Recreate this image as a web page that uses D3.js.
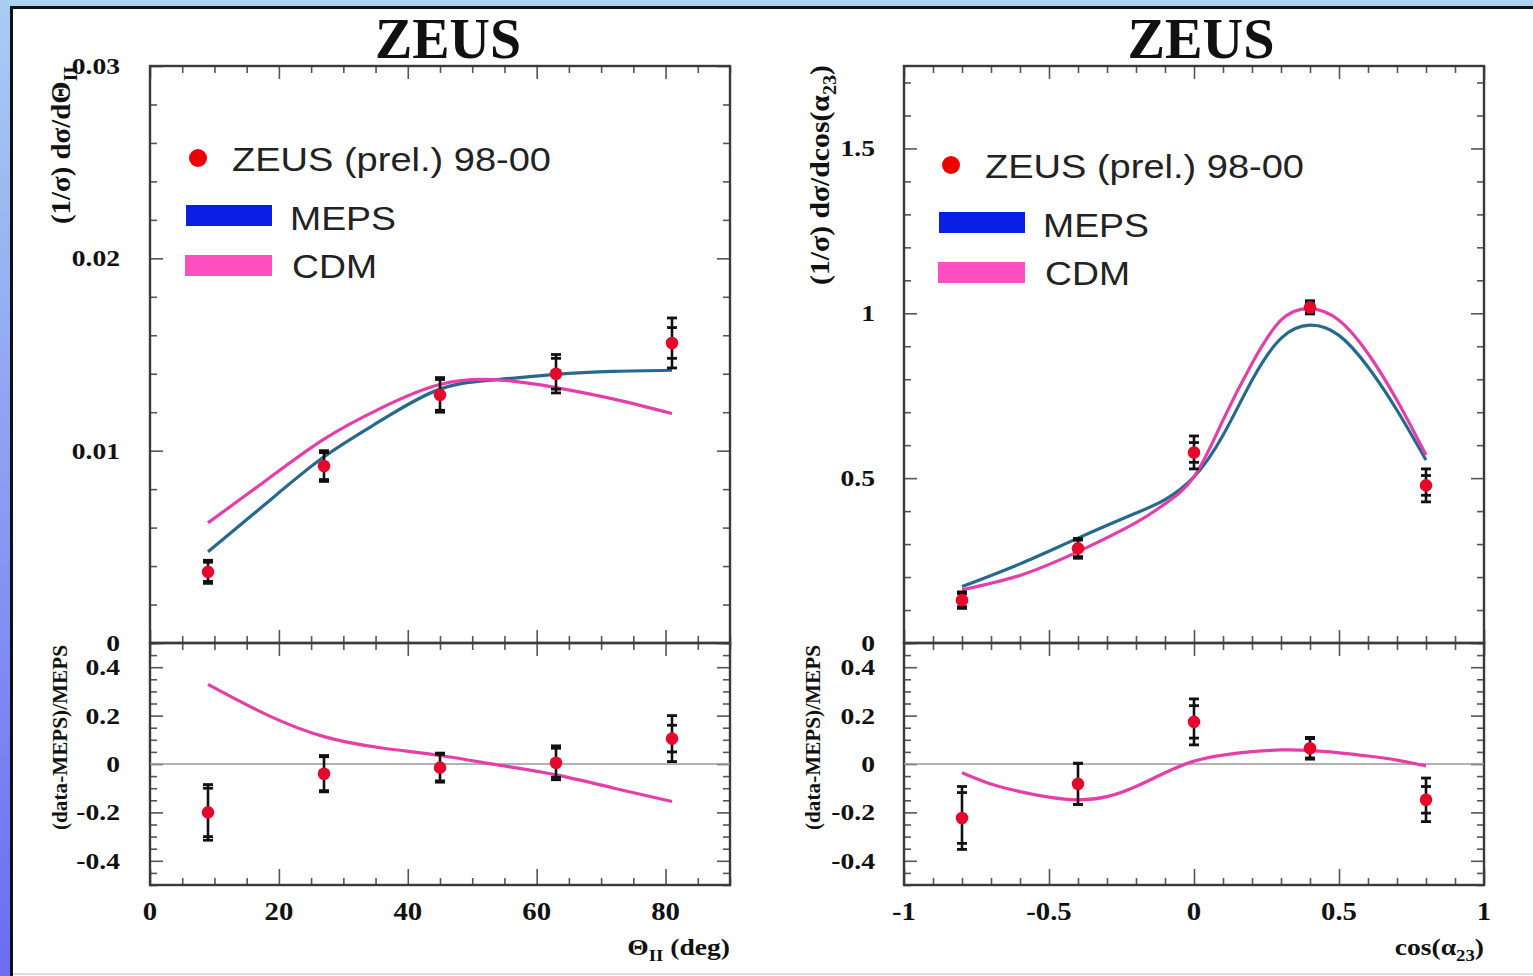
<!DOCTYPE html>
<html><head><meta charset="utf-8">
<script src="https://cdn.jsdelivr.net/npm/d3@7"></script>
<style>body{margin:0;background:#fff;} svg{display:block;}</style>
</head><body>
<script>
// ---------- DATA ----------
// Left: Theta_II (deg)
const thetaBins = [9, 27, 45, 63, 81];
const thetaData = [0.0037, 0.0092, 0.0129, 0.0140, 0.0156];
const thetaStat = [0.0005, 0.0007, 0.0008, 0.0008, 0.0008];
const thetaTot  = [0.0006, 0.0008, 0.0009, 0.0010, 0.0013];
const thetaCurveX = [9, 18, 27, 36, 45, 54, 63, 72, 81];
const thetaMEPS = [0.00474, 0.00725, 0.00968, 0.01160, 0.01320, 0.01370, 0.01397, 0.01412, 0.01418];
const thetaCDM  = [0.00625, 0.00845, 0.01060, 0.01224, 0.01344, 0.01368, 0.01328, 0.01268, 0.01193];
const thetaRatio     = [-0.20, -0.04, -0.015, 0.005, 0.105];
const thetaRatioStat = [0.10, 0.07, 0.055, 0.06, 0.055];
const thetaRatioTot  = [0.115, 0.075, 0.06, 0.07, 0.095];
const thetaRatioCDM  = [0.329, 0.205, 0.113, 0.066, 0.035, -0.004, -0.045, -0.10, -0.155];

// Right: cos(alpha_23)
const cosBins = [-0.8, -0.4, 0, 0.4, 0.8];
const cosData = [0.130, 0.287, 0.578, 1.018, 0.478];
const cosStat = [0.02, 0.025, 0.03, 0.015, 0.03];
const cosTot  = [0.025, 0.03, 0.05, 0.02, 0.05];
const cosCurveX = [-0.8, -0.6, -0.4, -0.2, -0.1, 0, 0.1, 0.2, 0.3, 0.4, 0.5, 0.6, 0.7, 0.8];
const cosMEPS = [0.171, 0.240, 0.318, 0.394, 0.435, 0.504, 0.630, 0.797, 0.924, 0.964, 0.933, 0.837, 0.706, 0.555];
const cosCDM  = [0.161, 0.205, 0.277, 0.365, 0.422, 0.504, 0.676, 0.848, 0.979, 1.014, 0.979, 0.878, 0.736, 0.57];
const cosRatio     = [-0.223, -0.082, 0.174, 0.065, -0.148];
const cosRatioStat = [0.105, 0.085, 0.067, 0.04, 0.055];
const cosRatioTot  = [0.13, 0.085, 0.095, 0.045, 0.09];
const cosRatioX   = [-0.8, -0.7, -0.6, -0.5, -0.4, -0.3, -0.2, -0.1, 0, 0.1, 0.2, 0.3, 0.4, 0.5, 0.6, 0.7, 0.8];
const cosRatioCDM = [-0.036, -0.083, -0.114, -0.137, -0.148, -0.135, -0.093, -0.036, 0.012, 0.037, 0.051, 0.058, 0.056, 0.046, 0.033, 0.016, -0.008];

// ticks & labels
const thetaXMajor = [0, 20, 40, 60, 80];
const thetaXLabels = ["0", "20", "40", "60", "80"];
const thetaYMajor = [0, 0.01, 0.02, 0.03];
const thetaYLabels = ["0", "0.01", "0.02", "0.03"];
const cosXMajor = [-1, -0.5, 0, 0.5, 1];
const cosXLabels = ["-1", "-0.5", "0", "0.5", "1"];
const cosYMajor = [0, 0.5, 1, 1.5];
const cosYLabels = ["0", "0.5", "1", "1.5"];
const ratioYMajor = [-0.4, -0.2, 0, 0.2, 0.4];
const ratioYLabels = ["-0.4", "-0.2", "0", "0.2", "0.4"];
const legendLabels = ["ZEUS (prel.) 98-00", "MEPS", "CDM"];

// ---------- STYLE ----------
const W = 1533, H = 976;
const C_MEPS = "#27698c", C_CDM = "#e43ea8", C_DOT = "#e4082c";
const C_LEG_MEPS = "#0b1ee6", C_LEG_CDM = "#ff50c2", C_LEG_DOT = "#ee0000";
const SERIF = "'Liberation Serif','Times New Roman',serif";
const SANS = "'Liberation Sans',Arial,sans-serif";
const SX = 1.15;

const svg = d3.select("body").append("svg").attr("width", W).attr("height", H);
const defs = svg.append("defs");
const grad = defs.append("linearGradient").attr("id", "sideGrad").attr("x1", 0).attr("y1", 0).attr("x2", 0).attr("y2", 1);
grad.append("stop").attr("offset", "0%").attr("stop-color", "#a9cdf2");
grad.append("stop").attr("offset", "100%").attr("stop-color", "#6b6cf2");

svg.append("rect").attr("width", W).attr("height", H).attr("fill", "#fff");
svg.append("rect").attr("x", 0).attr("y", 0).attr("width", W).attr("height", 6).attr("fill", "#a9d3f1");
svg.append("rect").attr("x", 0).attr("y", 0).attr("width", 10).attr("height", H).attr("fill", "url(#sideGrad)");
svg.append("line").attr("x1", 10).attr("x2", W).attr("y1", 7.5).attr("y2", 7.5).attr("stroke", "#111").attr("stroke-width", 3);
svg.append("line").attr("x1", 11.5).attr("x2", 11.5).attr("y1", 6).attr("y2", H).attr("stroke", "#111").attr("stroke-width", 3);
svg.append("line").attr("x1", 13).attr("x2", W).attr("y1", 974).attr("y2", 974).attr("stroke", "#bbb").attr("stroke-width", 1);

function stext(g, x, y, str, o) {
  const t = g.append("text")
    .attr("transform", `translate(${x},${y}) scale(${o.sx || 1},1)` + (o.rot ? ` rotate(${o.rot})` : ""))
    .attr("font-family", o.family || SERIF)
    .attr("font-weight", o.weight || "bold")
    .attr("font-size", o.size)
    .attr("fill", o.fill || "#111")
    .attr("text-anchor", o.anchor || "start");
  if (o.len) t.attr("textLength", o.len).attr("lengthAdjust", "spacingAndGlyphs");
  if (Array.isArray(str)) {
    str.forEach(p => {
      const ts = t.append("tspan").text(p.t);
      if (p.sub) ts.attr("font-size", o.size * 0.68).attr("dy", o.size * 0.25);
      if (p.up) ts.attr("dy", -o.size * 0.25);
    });
  } else t.text(str);
  return t;
}

function range(a, b, s) { const r = []; for (let i = 0; a + i * s <= b + 1e-9; i++) r.push(+(a + i * s).toFixed(6)); return r; }

function tickSet(g, axisFn, scale, vals, len, tx, ty) {
  g.append("g").attr("transform", `translate(${tx},${ty})`)
    .call(axisFn(scale).tickValues(vals).tickSize(-len).tickFormat(""))
    .call(a => a.select(".domain").remove())
    .call(a => a.selectAll("line").attr("stroke", "#555").attr("stroke-width", 1.6));
}

function panel(g, xs, ys, xMaj, xMin, yMaj, yMin, xLen) {
  const [x0, x1] = xs.range(), [y0, y1] = [ys.range()[1], ys.range()[0]];
  tickSet(g, d3.axisLeft, ys, yMaj, 13, x0, 0);
  tickSet(g, d3.axisLeft, ys, yMin, 7, x0, 0);
  tickSet(g, d3.axisRight, ys, yMaj, 13, x1, 0);
  tickSet(g, d3.axisRight, ys, yMin, 7, x1, 0);
  tickSet(g, d3.axisBottom, xs, xMaj, xLen, 0, y1);
  tickSet(g, d3.axisBottom, xs, xMin, 7, 0, y1);
  tickSet(g, d3.axisTop, xs, xMaj, 13, 0, y0);
  tickSet(g, d3.axisTop, xs, xMin, 7, 0, y0);
  g.append("rect").attr("x", x0).attr("y", y0).attr("width", x1 - x0).attr("height", y1 - y0)
    .attr("fill", "none").attr("stroke", "#3a3a3a").attr("stroke-width", 2.4);
}

function curve(g, xs, ys, X, Y, color) {
  const line = d3.line().x((d, i) => xs(X[i])).y(d => ys(d)).curve(d3.curveNatural);
  g.append("path").datum(Y).attr("d", line).attr("fill", "none").attr("stroke", color).attr("stroke-width", 3.2);
}

function points(g, xs, ys, X, Y, S, T) {
  const cap = 5;
  X.forEach((x, i) => {
    const px = xs(x);
    g.append("line").attr("x1", px).attr("x2", px).attr("y1", ys(Y[i] - T[i])).attr("y2", ys(Y[i] + T[i]))
      .attr("stroke", "#111").attr("stroke-width", 2.6);
    [Y[i] - S[i], Y[i] + S[i], Y[i] - T[i], Y[i] + T[i]].forEach(v =>
      g.append("line").attr("x1", px - cap).attr("x2", px + cap).attr("y1", ys(v)).attr("y2", ys(v))
        .attr("stroke", "#111").attr("stroke-width", 2.8));
    g.append("circle").attr("cx", px).attr("cy", ys(Y[i])).attr("r", 6.3).attr("fill", C_DOT);
  });
}

function legend(g, x, y) {
  g.append("circle").attr("cx", x).attr("cy", y).attr("r", 9).attr("fill", C_LEG_DOT);
  stext(g, x + 34, y + 13, legendLabels[0], { size: 34, family: SANS, weight: "normal", fill: "#222", len: 319 });
  g.append("rect").attr("x", x - 12).attr("y", y + 47).attr("width", 86).attr("height", 21).attr("fill", C_LEG_MEPS);
  stext(g, x + 92, y + 72, legendLabels[1], { size: 34, family: SANS, weight: "normal", fill: "#222", len: 106 });
  g.append("rect").attr("x", x - 13).attr("y", y + 97).attr("width", 87).attr("height", 21).attr("fill", C_LEG_CDM);
  stext(g, x + 94, y + 120, legendLabels[2], { size: 34, family: SANS, weight: "normal", fill: "#222", len: 85 });
}

// ---------- SCALES ----------
const xTheta = d3.scaleLinear([0, 90], [150, 730]);
const yTheta = d3.scaleLinear([0, 0.03], [643, 66]);
const yRatioL = d3.scaleLinear([-0.5, 0.5], [885, 643]);
const xCos = d3.scaleLinear([-1, 1], [904, 1484]);
const yCos = d3.scaleLinear([0, 1.75], [643, 66]);
const yRatioR = d3.scaleLinear([-0.5, 0.5], [885, 643]);

const thetaXMinor = range(0, 90, 5).filter(v => v % 20 !== 0);
const thetaYMinor = range(0, 0.03, 0.002).filter(v => Math.abs(v * 100 - Math.round(v * 100)) > 1e-6);
const cosXMinor = range(-1, 1, 0.1).filter(v => Math.abs(v * 2 - Math.round(v * 2)) > 1e-6);
const cosYMinor = range(0, 1.75, 0.1).filter(v => Math.abs(v * 2 - Math.round(v * 2)) > 1e-6);
const ratioYMinor = range(-0.5, 0.5, 0.05).filter(v => Math.abs(v * 5 - Math.round(v * 5)) > 1e-6);

// ---------- LEFT ----------
const gL = svg.append("g");
panel(gL, xTheta, yTheta, thetaXMajor, thetaXMinor, thetaYMajor, thetaYMinor, 13);
panel(gL, xTheta, yRatioL, thetaXMajor, thetaXMinor, ratioYMajor, ratioYMinor, 16);
gL.append("line").attr("x1", 150).attr("x2", 730).attr("y1", yRatioL(0)).attr("y2", yRatioL(0)).attr("stroke", "#999").attr("stroke-width", 1.6);
curve(gL, xTheta, yTheta, thetaCurveX, thetaMEPS, C_MEPS);
curve(gL, xTheta, yTheta, thetaCurveX, thetaCDM, C_CDM);
points(gL, xTheta, yTheta, thetaBins, thetaData, thetaStat, thetaTot);
curve(gL, xTheta, yRatioL, thetaCurveX, thetaRatioCDM, C_CDM);
points(gL, xTheta, yRatioL, thetaBins, thetaRatio, thetaRatioStat, thetaRatioTot);

thetaYMajor.forEach((v, i) => stext(gL, 120, yTheta(v) + 8, thetaYLabels[i], { size: 24, anchor: "end", sx: SX }));
ratioYMajor.forEach((v, i) => stext(gL, 120, yRatioL(v) + 8, ratioYLabels[i], { size: 24, anchor: "end", sx: SX }));
thetaXMajor.forEach((v, i) => stext(gL, xTheta(v), 920, thetaXLabels[i], { size: 25, anchor: "middle", sx: SX }));
stext(gL, 448, 58, "ZEUS", { size: 56, anchor: "middle", len: 146 });
stext(gL, 730, 955, [{ t: "Θ" }, { t: "II", sub: true }, { t: " (deg)", up: true }], { size: 24, anchor: "end", sx: SX });
stext(gL, 70, 224, [{ t: "(1/σ) dσ/dΘ" }, { t: "II", sub: true }], { size: 23, rot: -90, sx: SX, len: 158 });
stext(gL, 67, 830, "(data-MEPS)/MEPS", { size: 19, rot: -90, sx: SX, len: 185 });
legend(gL, 198, 158);

// ---------- RIGHT ----------
const gR = svg.append("g");
panel(gR, xCos, yCos, cosXMajor, cosXMinor, cosYMajor, cosYMinor, 13);
panel(gR, xCos, yRatioR, cosXMajor, cosXMinor, ratioYMajor, ratioYMinor, 16);
gR.append("line").attr("x1", 904).attr("x2", 1484).attr("y1", yRatioR(0)).attr("y2", yRatioR(0)).attr("stroke", "#999").attr("stroke-width", 1.6);
curve(gR, xCos, yCos, cosCurveX, cosMEPS, C_MEPS);
curve(gR, xCos, yCos, cosCurveX, cosCDM, C_CDM);
points(gR, xCos, yCos, cosBins, cosData, cosStat, cosTot);
curve(gR, xCos, yRatioR, cosRatioX, cosRatioCDM, C_CDM);
points(gR, xCos, yRatioR, cosBins, cosRatio, cosRatioStat, cosRatioTot);

cosYMajor.forEach((v, i) => stext(gR, 875, yCos(v) + 8, cosYLabels[i], { size: 24, anchor: "end", sx: SX }));
ratioYMajor.forEach((v, i) => stext(gR, 875, yRatioR(v) + 8, ratioYLabels[i], { size: 24, anchor: "end", sx: SX }));
cosXMajor.forEach((v, i) => stext(gR, xCos(v), 920, cosXLabels[i], { size: 25, anchor: "middle", sx: SX }));
stext(gR, 1201, 58, "ZEUS", { size: 56, anchor: "middle", len: 147 });
stext(gR, 1484, 955, [{ t: "cos(α" }, { t: "23", sub: true }, { t: ")", up: true }], { size: 24, anchor: "end", sx: SX });
stext(gR, 829, 285, [{ t: "(1/σ) dσ/dcos(α" }, { t: "23", sub: true }, { t: ")", up: true }], { size: 23, rot: -90, sx: SX, len: 220 });
stext(gR, 820, 830, "(data-MEPS)/MEPS", { size: 19, rot: -90, sx: SX, len: 185 });
legend(gR, 951, 165);
</script>
</body></html>
